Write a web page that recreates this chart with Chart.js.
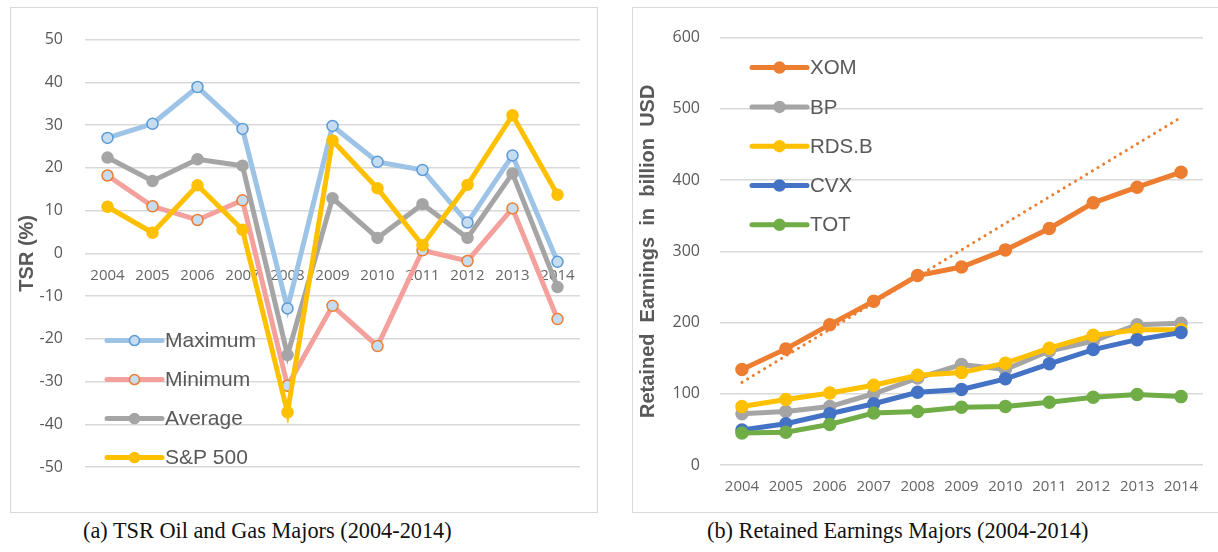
<!DOCTYPE html>
<html>
<head>
<meta charset="utf-8">
<script src="https://cdn.jsdelivr.net/npm/chart.js@4.4.1/dist/chart.umd.min.js"></script>
<style>
    body { margin: 0; width: 1218px; height: 552px; background: #fff; position: relative; overflow: hidden; }
    .frame { position: absolute; border: 1px solid #d9d9d9; box-sizing: border-box; }
    .frame canvas { position: absolute; left: 0; top: 0; }
    .cap { position: absolute; font-family: "Liberation Serif", serif; font-size: 22.3px; color: #111; white-space: nowrap; }
</style>
</head>
<body>
<div class="frame" style="left:10px;top:7px;width:588px;height:506px"><canvas id="tsrChart" width="586" height="504"></canvas></div>
<div class="frame" style="left:632px;top:7px;width:600px;height:506px"><canvas id="reChart" width="585" height="504"></canvas></div>
<div class="cap" style="left:83px;top:518px">(a) TSR Oil and Gas Majors (2004-2014)</div>
<div class="cap" style="left:707px;top:518px">(b) Retained Earnings Majors (2004-2014)</div>

<script>
// Years shared by both panels
const years = ['2004', '2005', '2006', '2007', '2008', '2009', '2010', '2011', '2012', '2013', '2014'];

// (a) TSR in %
const tsrMax = [27.0, 30.3, 38.9, 29.1, -12.9, 29.8, 21.4, 19.5, 7.2, 22.9, -2.0];
const tsrMin = [18.2, 11.0, 7.8, 12.4, -31.0, -12.3, -21.7, 0.7, -1.8, 10.5, -15.4];
const tsrAvg = [22.4, 16.9, 22.0, 20.5, -23.8, 12.9, 3.6, 11.5, 3.6, 18.7, -7.9];
const sp500 = [10.9, 4.8, 15.9, 5.5, -37.2, 26.4, 15.2, 1.9, 16.0, 32.3, 13.7];

// (b) Retained earnings, billion USD
const xom = [134, 163, 197, 230, 266, 278, 302, 332, 368, 390, 411];
const bp = [72, 75, 82, 100, 122, 141, 134, 160, 174, 197, 199];
const rdsb = [82, 92, 101, 112, 126, 130, 143, 164, 182, 190, 190];
const cvx = [49, 58, 72, 86, 102, 106, 121, 142, 162, 176, 186];
const tot = [45, 46, 57, 73, 75, 81, 82, 88, 95, 99, 96];
// dotted XOM trend line, only its two ends
const xomTrend = [116, null, null, null, null, null, null, null, null, null, 488];

const grey = '#595959';
const tickFont = { family: 'Open Sans', size: 16 };
const yearFont = { family: 'Open Sans', size: 15 };
const titleFont = { family: 'Liberation Sans', size: 20, weight: 'bold' };

// Legend drawn inside the plot area, like the Excel one
const innerLegend = {
    id: 'innerLegend',
    afterDatasetsDraw(chart, args, opts) {
        const ctx = chart.ctx;
        const area = chart.chartArea;
        const x0 = area.left + opts.x;
        let y = area.top + opts.y;
        ctx.save();
        ctx.font = opts.size + 'px "Liberation Sans"';
        ctx.textBaseline = 'middle';
        chart.data.datasets.forEach(ds => {
            if (ds.noLegend) return;
            ctx.strokeStyle = ds.borderColor;
            ctx.lineWidth = ds.borderWidth;
            ctx.lineCap = 'round';
            ctx.beginPath();
            ctx.moveTo(x0, y);
            ctx.lineTo(x0 + opts.len, y);
            ctx.stroke();
            ctx.beginPath();
            ctx.arc(x0 + opts.len / 2, y, opts.r, 0, Math.PI * 2);
            ctx.fillStyle = ds.pointBackgroundColor;
            ctx.fill();
            ctx.lineWidth = ds.pointBorderWidth;
            ctx.strokeStyle = ds.pointBorderColor;
            ctx.stroke();
            ctx.fillStyle = grey;
            ctx.fillText(ds.label, x0 + opts.len + 3, y + 1);
            y += opts.gap;
        });
        ctx.restore();
    }
};

function lineSet(label, data, color, order, pointFill, pointEdge) {
    return {
        label: label,
        data: data,
        borderColor: color,
        backgroundColor: color,
        borderWidth: 5,
        pointRadius: 5.5,
        pointBackgroundColor: pointFill || color,
        pointBorderColor: pointEdge || color,
        pointBorderWidth: 1.5,
        tension: 0,
        order: order
    };
}

// (a) TSR chart
const tsrChart = new Chart(document.getElementById('tsrChart'), {
    type: 'line',
    data: {
        labels: years,
        datasets: [
            lineSet('Maximum', tsrMax, '#9dc3e6', 3, '#c5dcf1', '#5b9bd5'),
            lineSet('Minimum', tsrMin, '#f4a09c', 2, '#c5dcf1', '#ed7d31'),
            lineSet('Average', tsrAvg, '#a5a5a5', 1),
            lineSet('S&P 500', sp500, '#ffc000', 0)
        ]
    },
    options: {
        responsive: false,
        animation: false,
        layout: { padding: { left: 0, right: 17, top: 25, bottom: 45 } },
        plugins: {
            legend: { display: false },
            tooltip: { enabled: false },
            innerLegend: { x: 22, y: 301, gap: 39, len: 55, r: 5, size: 21 }
        },
        scales: {
            x: {
                position: { y: 0 },
                offset: true,
                grid: { display: false, drawTicks: false },
                border: { display: false },
                ticks: { color: '#666', font: yearFont, padding: 13, maxRotation: 0, autoSkip: false }
            },
            y: {
                min: -50,
                max: 50,
                ticks: { stepSize: 10, color: grey, font: tickFont, padding: 22 },
                grid: { color: '#d9d9d9', lineWidth: 1.5, drawTicks: false },
                border: { display: false },
                title: { display: true, text: 'TSR (%)', color: grey, font: titleFont, padding: { top: 4, bottom: 0 } },
                afterFit(scale) { scale.width = 74; }
            }
        }
    },
    plugins: [innerLegend]
});

// (b) Retained earnings chart
const trendSet = {
    label: 'XOM trend',
    data: xomTrend,
    noLegend: true,
    spanGaps: true,
    borderColor: '#ed7d31',
    borderWidth: 3,
    borderDash: [0.1, 6.5],
    borderCapStyle: 'round',
    pointRadius: 0,
    order: 0
};
const reSets = [
    lineSet('XOM', xom, '#ed7d31', 5),
    lineSet('BP', bp, '#a5a5a5', 4),
    lineSet('RDS.B', rdsb, '#ffc000', 3),
    lineSet('CVX', cvx, '#4472c4', 2),
    lineSet('TOT', tot, '#70ad47', 1),
    trendSet
];
reSets.forEach(ds => { if (!ds.noLegend) { ds.pointRadius = 6; } });

const reChart = new Chart(document.getElementById('reChart'), {
    type: 'line',
    data: { labels: years, datasets: reSets },
    options: {
        responsive: false,
        animation: false,
        layout: { padding: { left: 0, right: 15, top: 25, bottom: 0 } },
        plugins: {
            legend: { display: false },
            tooltip: { enabled: false },
            innerLegend: { x: 32, y: 30, gap: 39.3, len: 55, r: 5.5, size: 20.5 }
        },
        scales: {
            x: {
                offset: true,
                grid: { display: false, drawTicks: false },
                border: { display: false },
                ticks: { color: '#666', font: yearFont, padding: 13, maxRotation: 0, autoSkip: false },
                afterFit(scale) { scale.height = 47; }
            },
            y: {
                min: 0,
                max: 600,
                ticks: { stepSize: 100, color: grey, font: tickFont, padding: 20 },
                grid: { color: '#d9d9d9', lineWidth: 1.5, drawTicks: false },
                border: { display: false },
                title: { display: true, text: 'Retained  Earnings  in  billion  USD', color: grey, font: titleFont, padding: { top: 3, bottom: 0 } },
                afterFit(scale) { scale.width = 87; }
            }
        }
    },
    plugins: [innerLegend]
});
</script>
</body>
</html>
